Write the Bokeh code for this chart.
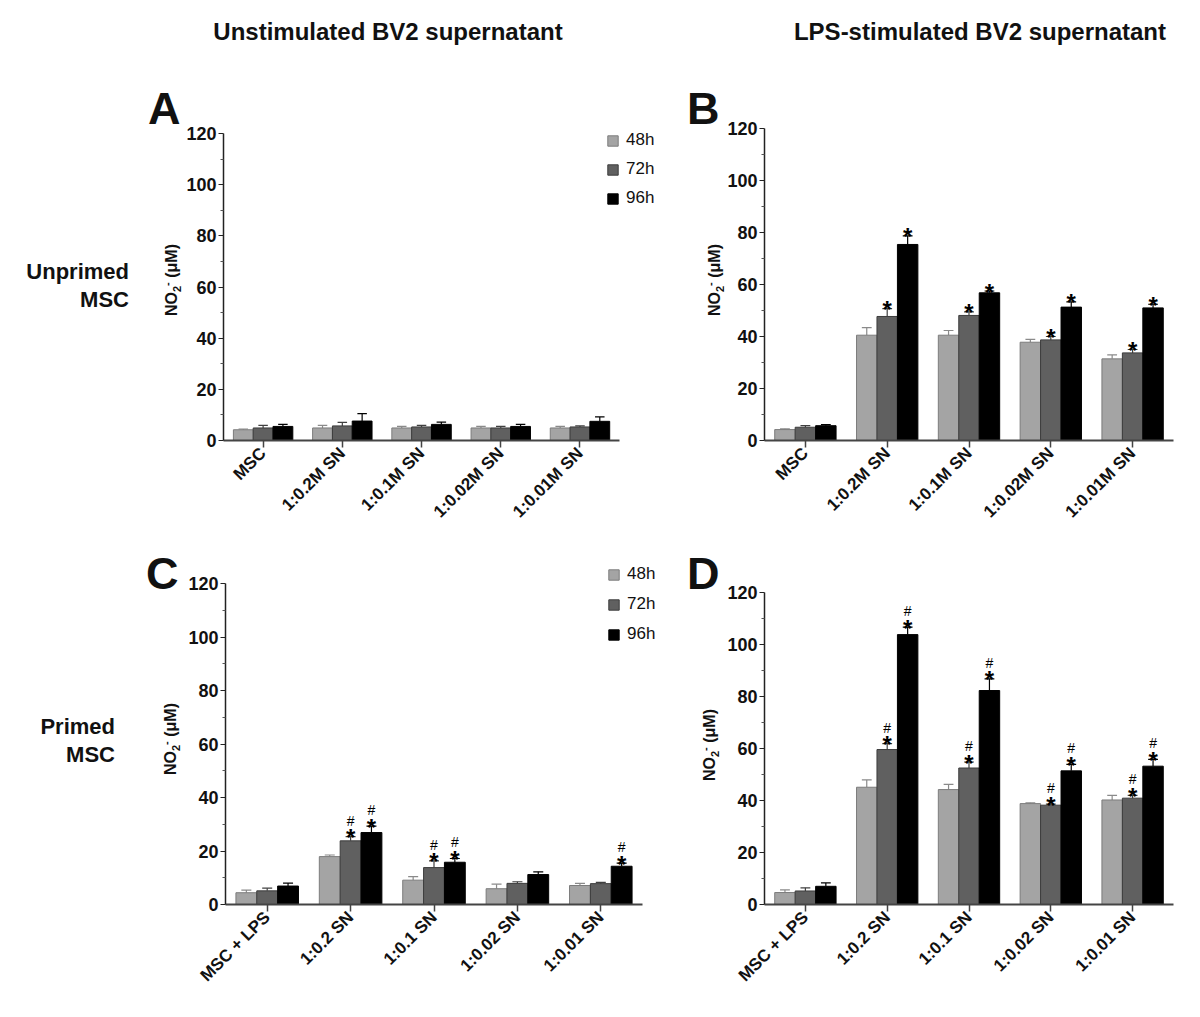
from bokeh.plotting import figure
from bokeh.models import Range1d, FixedTicker, Legend, LegendItem, Div
from bokeh.layouts import row, column
from bokeh.embed import file_html
from bokeh.resources import INLINE
from bokeh.core.properties import value

# ---------------- data ----------------
series = ["48h", "72h", "96h"]
cats_unprimed = ["MSC", "1:0.2M SN", "1:0.1M SN", "1:0.02M SN", "1:0.01M SN"]
cats_primed = ["MSC + LPS", "1:0.2 SN", "1:0.1 SN", "1:0.02 SN", "1:0.01 SN"]
y_ticks = [0, 20, 40, 60, 80, 100, 120]
col_titles = ["Unstimulated BV2 supernatant", "LPS-stimulated BV2 supernatant"]
row_titles = [["Unprimed", "MSC"], ["Primed", "MSC"]]
panel_letters = ["A", "B", "C", "D"]

# Panel A: unprimed MSC, unstimulated BV2 supernatant
a_48 = [4.2, 4.9, 4.9, 4.9, 4.9]
a_48_err = [0.3, 1.0, 0.6, 0.6, 0.6]
a_72 = [4.9, 5.7, 5.3, 4.9, 5.3]
a_72_err = [1.0, 1.4, 0.6, 0.6, 0.4]
a_96 = [5.5, 7.6, 6.3, 5.5, 7.5]
a_96_err = [0.8, 2.9, 0.9, 0.8, 1.7]

# Panel B: unprimed MSC, LPS-stimulated BV2 supernatant
b_48 = [4.2, 40.5, 40.5, 37.8, 31.4]
b_48_err = [0.3, 2.9, 1.8, 1.1, 1.5]
b_72 = [5.1, 47.7, 48.1, 38.7, 33.7]
b_72_err = [0.6, 3.0, 1.4, 1.3, 1.3]
b_96 = [5.7, 75.4, 56.8, 51.3, 51.0]
b_96_err = [0.4, 3.3, 0.7, 2.0, 1.4]
b_star_72 = [0, 1, 1, 1, 1]
b_star_96 = [0, 1, 1, 1, 1]

# Panel C: primed MSC, unstimulated BV2 supernatant
c_48 = [4.4, 17.9, 9.1, 5.9, 7.1]
c_48_err = [1.0, 0.6, 1.3, 1.7, 0.8]
c_72 = [5.1, 23.8, 13.8, 7.9, 7.8]
c_72_err = [1.0, 1.6, 2.5, 0.6, 0.5]
c_96 = [6.9, 26.9, 15.8, 11.2, 14.3]
c_96_err = [1.1, 2.4, 1.4, 1.0, 1.2]
c_mark_72 = [0, 1, 1, 0, 0]
c_mark_96 = [0, 1, 1, 0, 1]

# Panel D: primed MSC, LPS-stimulated BV2 supernatant
d_48 = [4.6, 45.1, 44.2, 38.8, 40.2]
d_48_err = [1.0, 2.8, 2.0, 0.3, 1.8]
d_72 = [5.2, 59.6, 52.5, 38.2, 40.9]
d_72_err = [1.2, 2.3, 2.3, 0.4, 1.1]
d_96 = [7.0, 103.8, 82.3, 51.4, 53.2]
d_96_err = [1.3, 2.9, 4.5, 2.5, 2.6]
d_mark_72 = [0, 1, 1, 1, 1]
d_mark_96 = [0, 1, 1, 1, 1]

# ---------------- style ----------------
FONT = "Liberation Sans"
CSS_FONT = "'Liberation Sans', Arial, sans-serif"
FILL = ["#a4a4a4", "#606060", "#000000"]
EDGE = ["#7c7c7c", "#3c3c3c", "#000000"]
ERRC = ["#8a8a8a", "#404040", "#000000"]
OFFS = [-0.25, 0.0, 0.25]
BAR_W = 0.25
CAP = 0.06
YMAX = 120


def panel(cats, vals, errs, stars, hashes, geom, legend_geom=None):
    # geom: figure origin on page, figure size, axis geometry on page, frame extension
    fx, fy, W, H, ax_left, ax_w, ax_top, ax_h, ext_r, ext_t = geom
    n = len(cats)
    bl = ax_left - fx
    bt = ax_top - ext_t - fy
    fw = ax_w + ext_r
    fh = ax_h + ext_t
    br = W - bl - fw
    bb = H - bt - fh
    p = figure(width=W, height=H,
               min_border_left=bl, min_border_right=br,
               min_border_top=bt, min_border_bottom=bb,
               x_range=Range1d(0, n * fw / ax_w), y_range=Range1d(0, YMAX * fh / ax_h),
               output_backend="svg", toolbar_location=None, tools="")
    p.outline_line_color = None
    p.grid.visible = False
    p.title.visible = False
    p.background_fill_color = "white"
    p.border_fill_color = "white"

    renderers = []
    for k in range(3):
        xs = [i + 0.5 + OFFS[k] for i in range(n)]
        tops = vals[k]
        ups = [t + e for t, e in zip(tops, errs[k])]
        p.segment(x0=xs, y0=tops, x1=xs, y1=ups, line_color=ERRC[k], line_width=1.2)
        p.segment(x0=[x - CAP for x in xs], y0=ups, x1=[x + CAP for x in xs], y1=ups,
                  line_color=ERRC[k], line_width=1.2)
        r = p.vbar(x=xs, top=tops, bottom=0, width=BAR_W, fill_color=FILL[k],
                   line_color=EDGE[k], line_width=1)
        renderers.append(r)

        sx, sy, hx, hy = [], [], [], []
        for i in range(n):
            if stars[k] is not None and stars[k][i]:
                sx.append(xs[i]); sy.append(ups[i])
            if hashes[k] is not None and hashes[k][i]:
                hx.append(xs[i]); hy.append(ups[i])
        if sx:
            p.text(x=sx, y=sy, text=["*"] * len(sx), text_font=value(FONT),
                   text_font_style="bold", text_font_size="24px", text_align="center",
                   text_baseline="alphabetic", y_offset=1, text_color="#000000")
        if hx:
            p.text(x=hx, y=hy, text=["#"] * len(hx), text_font=value(FONT),
                   text_font_style="normal", text_font_size="14px", text_align="center",
                   text_baseline="alphabetic", y_offset=-16, text_color="#000000")

    xa = p.xaxis[0]
    xa.bounds = (0, n)
    xa.ticker = FixedTicker(ticks=[i + 0.5 for i in range(n)])
    xa.major_label_overrides = {i + 0.5: c for i, c in enumerate(cats)}
    xa.major_label_orientation = 3.14159265 / 4
    xa.major_label_text_font = FONT
    xa.major_label_text_font_style = "bold"
    xa.major_label_text_font_size = "17px"
    xa.major_label_text_color = "#111111"
    xa.major_tick_out = 7
    xa.major_tick_in = 0
    xa.minor_tick_out = 0
    xa.major_label_standoff = 3
    xa.axis_line_width = 2
    xa.axis_line_color = "#444444"
    xa.major_tick_line_color = "#444444"
    xa.major_tick_line_width = 1.5

    ya = p.yaxis[0]
    ya.bounds = (0, YMAX)
    ya.ticker = FixedTicker(ticks=y_ticks, minor_ticks=[t + 10 for t in y_ticks[:-1]])
    ya.major_label_text_font = FONT
    ya.major_label_text_font_style = "bold"
    ya.major_label_text_font_size = "18px"
    ya.major_label_text_color = "#111111"
    ya.major_tick_out = 5
    ya.major_tick_in = 0
    ya.minor_tick_out = 3
    ya.minor_tick_in = 0
    ya.major_label_standoff = 2
    ya.axis_line_width = 1.5
    ya.axis_line_color = "#222222"
    ya.major_tick_line_color = "#222222"
    ya.minor_tick_line_color = "#555555"

    if legend_geom is not None:
        lg_left, lg_top, spacing = legend_geom
        box_h = 3 * 20 + 2 * spacing
        lg = Legend(items=[LegendItem(label=series[k], renderers=[renderers[k]]) for k in range(3)],
                    location=(lg_left - ax_left, ax_top + ax_h - (lg_top + box_h)),
                    orientation="vertical",
                    glyph_width=13, glyph_height=13, label_height=20,
                    label_text_font=FONT, label_text_font_size="17px",
                    label_text_color="#111111",
                    label_standoff=7, spacing=spacing, padding=0, margin=0,
                    background_fill_alpha=0, border_line_alpha=0)
        p.add_layout(lg)
    return p


# ---------------- page geometry (page pixels) ----------------
# plots sharing a row get equal top/bottom borders (Bokeh aligns them), so each row
# uses one frame top and one frame bottom; the 0-120 axis is placed by the y range.
ROW1_Y, ROW2_Y, PAGE_BOTTOM = 70, 535, 1005
H1, H2 = ROW2_Y - ROW1_Y, PAGE_BOTTOM - ROW2_Y
COL_A, MID_X, COL_B, RIGHT = 183, 665, 724, 1185

pA = panel(cats_unprimed, [a_48, a_72, a_96], [a_48_err, a_72_err, a_96_err],
           [None, None, None], [None, None, None],
           (COL_A, ROW1_Y, MID_X - COL_A, H1, 222, 397, 133, 307, 42, 6),
           legend_geom=(605, 130, 9))
pB = panel(cats_unprimed, [b_48, b_72, b_96], [b_48_err, b_72_err, b_96_err],
           [None, b_star_72, b_star_96], [None, None, None],
           (COL_B, ROW1_Y, RIGHT - COL_B, H1, 763, 410, 128, 312, 0, 1))
pC = panel(cats_primed, [c_48, c_72, c_96], [c_48_err, c_72_err, c_96_err],
           [None, c_mark_72, c_mark_96], [None, c_mark_72, c_mark_96],
           (COL_A, ROW2_Y, MID_X - COL_A, H2, 225, 417, 583, 321, 20, 20),
           legend_geom=(607, 564, 10))
pD = panel(cats_primed, [d_48, d_72, d_96], [d_48_err, d_72_err, d_96_err],
           [None, d_mark_72, d_mark_96], [None, d_mark_72, d_mark_96],
           (COL_B, ROW2_Y, RIGHT - COL_B, H2, 762, 411, 592, 312, 0, 29))


# ---------------- HTML text blocks ----------------
def text_span(x, baseline, text, size, ox, oy, weight="bold", align="left", box_w=None):
    top = baseline - 0.8465 * size - oy
    css = ("position:absolute;top:%.1fpx;white-space:nowrap;font-family:%s;font-weight:%s;"
           "font-size:%dpx;line-height:%dpx;color:#111;" % (top, CSS_FONT, weight, size, size))
    if align == "left":
        css += "left:%.1fpx;" % (x - ox)
    elif align == "right":
        css += "right:%.1fpx;" % (box_w - (x - ox))
    else:
        css += "left:%.1fpx;width:600px;margin-left:-300px;text-align:center;" % (x - ox)
    return "<span style=\"%s\">%s</span>" % (css, text)


def ylabel_span(cx, cy, ox, oy):
    label = ("NO<sub style='font-size:11px;line-height:0;'>2</sub>"
             "<sup style='font-size:11px;line-height:0;'>-</sup> (\u03bcM)")
    css = ("position:absolute;left:%.1fpx;top:%.1fpx;white-space:nowrap;font-family:%s;"
           "font-weight:bold;font-size:16px;line-height:18px;color:#111;"
           "transform:translate(-50%%,-50%%) rotate(-90deg);" % (cx - ox, cy - oy, CSS_FONT))
    return "<span style=\"%s\">%s</span>" % (css, label)


def box(w, h, spans):
    return ("<div style='position:relative;width:%dpx;height:%dpx;'>" % (w, h)) + "".join(spans) + "</div>"


title_div = Div(text=box(RIGHT, ROW1_Y, [
    text_span(388, 40, col_titles[0], 24, 0, 0, align="center"),
    text_span(980, 40, col_titles[1], 24, 0, 0, align="center")]),
    width=RIGHT, height=ROW1_Y, margin=0)

left1 = Div(text=box(COL_A, H1, [
    text_span(129, 280, row_titles[0][0], 22, 0, ROW1_Y, align="right", box_w=COL_A),
    text_span(129, 308, row_titles[0][1], 22, 0, ROW1_Y, align="right", box_w=COL_A),
    text_span(148, 124, panel_letters[0], 45, 0, ROW1_Y),
    ylabel_span(172, 280, 0, ROW1_Y)]),
    width=COL_A, height=H1, margin=0)
mid1 = Div(text=box(COL_B - MID_X, H1, [
    text_span(687, 124, panel_letters[1], 45, MID_X, ROW1_Y),
    ylabel_span(715, 280, MID_X, ROW1_Y)]),
    width=COL_B - MID_X, height=H1, margin=0)
left2 = Div(text=box(COL_A, H2, [
    text_span(115, 735, row_titles[1][0], 22, 0, ROW2_Y, align="right", box_w=COL_A),
    text_span(115, 763, row_titles[1][1], 22, 0, ROW2_Y, align="right", box_w=COL_A),
    text_span(146, 589, panel_letters[2], 45, 0, ROW2_Y),
    ylabel_span(171, 739, 0, ROW2_Y)]),
    width=COL_A, height=H2, margin=0)
mid2 = Div(text=box(COL_B - MID_X, H2, [
    text_span(687, 589, panel_letters[3], 45, MID_X, ROW2_Y),
    ylabel_span(710, 745, MID_X, ROW2_Y)]),
    width=COL_B - MID_X, height=H2, margin=0)

layout = column(title_div, row(left1, pA, mid1, pB), row(left2, pC, mid2, pD))

open("out.html", "w").write(file_html(layout, INLINE))
